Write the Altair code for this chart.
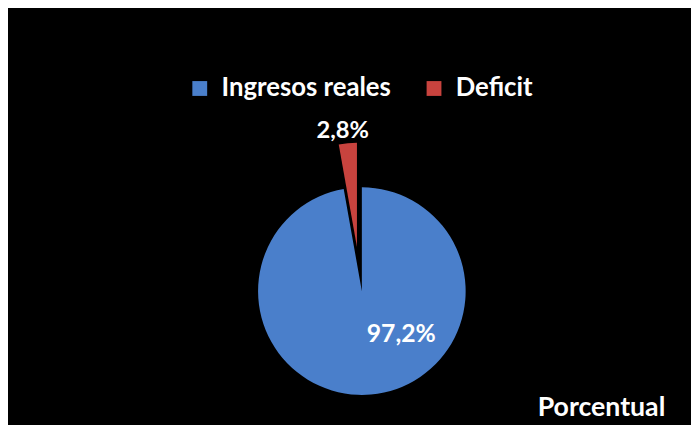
import altair as alt
import pandas as pd
import math

categories = ["Ingresos reales", "Deficit"]
values = [97.2, 2.8]
order_idx = [0, 1]
colors = ["#4A7FCB", "#C8433E"]

df = pd.DataFrame({"cat": categories, "value": values, "idx": order_idx})

FONT = "Lato"
CX, CY = 358, 284
R = 105

base = alt.Chart(df).transform_window(
    end="sum(value)", sort=[alt.SortField("idx")], frame=[None, 0]
).transform_calculate(
    start="datum.end - datum.value",
    mid="datum.end - datum.value/2",
    label="replace(format(datum.value, '.1f'), '.', ',') + '%'",
)

theta_scale = alt.Scale(domain=[0, 100], range=[0, 2 * math.pi])
color_enc = alt.Color(
    "cat:N",
    scale=alt.Scale(domain=categories, range=colors),
    sort=categories,
    legend=alt.Legend(
        title=None, orient="none", direction="horizontal",
        legendX=181, legendY=66, symbolType="square", symbolSize=225,
        symbolStrokeWidth=0, symbolOpacity=1,
        labelFont=FONT, labelFontSize=26, labelFontWeight="bold",
        labelColor="white", labelOffset=9, labelLimit=400,
        columnPadding=30, padding=0,
    ),
)

blue = base.transform_filter(alt.datum.cat == "Ingresos reales").mark_arc(
    outerRadius=R, stroke=None
).encode(
    theta=alt.Theta("start:Q", scale=theta_scale), theta2="end:Q",
    color=color_enc,
    x=alt.value(CX), y=alt.value(CY),
)

red = base.transform_filter(alt.datum.cat == "Deficit").mark_arc(
    outerRadius=R, stroke=None
).encode(
    theta=alt.Theta("start:Q", scale=theta_scale), theta2="end:Q",
    color=color_enc,
    x=alt.value(CX - 5), y=alt.value(CY - 45),
)

blue_text = base.transform_filter(alt.datum.cat == "Ingresos reales").mark_text(
    radius=44, dx=36, font=FONT, fontSize=25, fontWeight="bold", color="white"
).encode(
    theta=alt.Theta("mid:Q", scale=theta_scale),
    text="label:N",
    x=alt.value(CX), y=alt.value(CY),
)

red_text = base.transform_filter(alt.datum.cat == "Deficit").mark_text(
    radius=117, dx=-4, font=FONT, fontSize=24, fontWeight="bold", color="white"
).encode(
    theta=alt.Theta("mid:Q", scale=theta_scale),
    text="label:N",
    x=alt.value(CX - 5), y=alt.value(CY - 45),
)

chart = alt.layer(blue, red, blue_text, red_text).properties(
    width=691, height=417,
    autosize=alt.AutoSizeParams(type="fit", contains="padding"),
    padding=0,
    background="#000000",
    title=alt.TitleParams(
        "Porcentual", orient="bottom", anchor="end", font=FONT,
        fontSize=27, fontWeight="bold", color="white", dx=-26, offset=-28,
    ),
).configure_view(stroke=None)

chart.save("out.html", embed_options={"renderer": "svg", "actions": False})
